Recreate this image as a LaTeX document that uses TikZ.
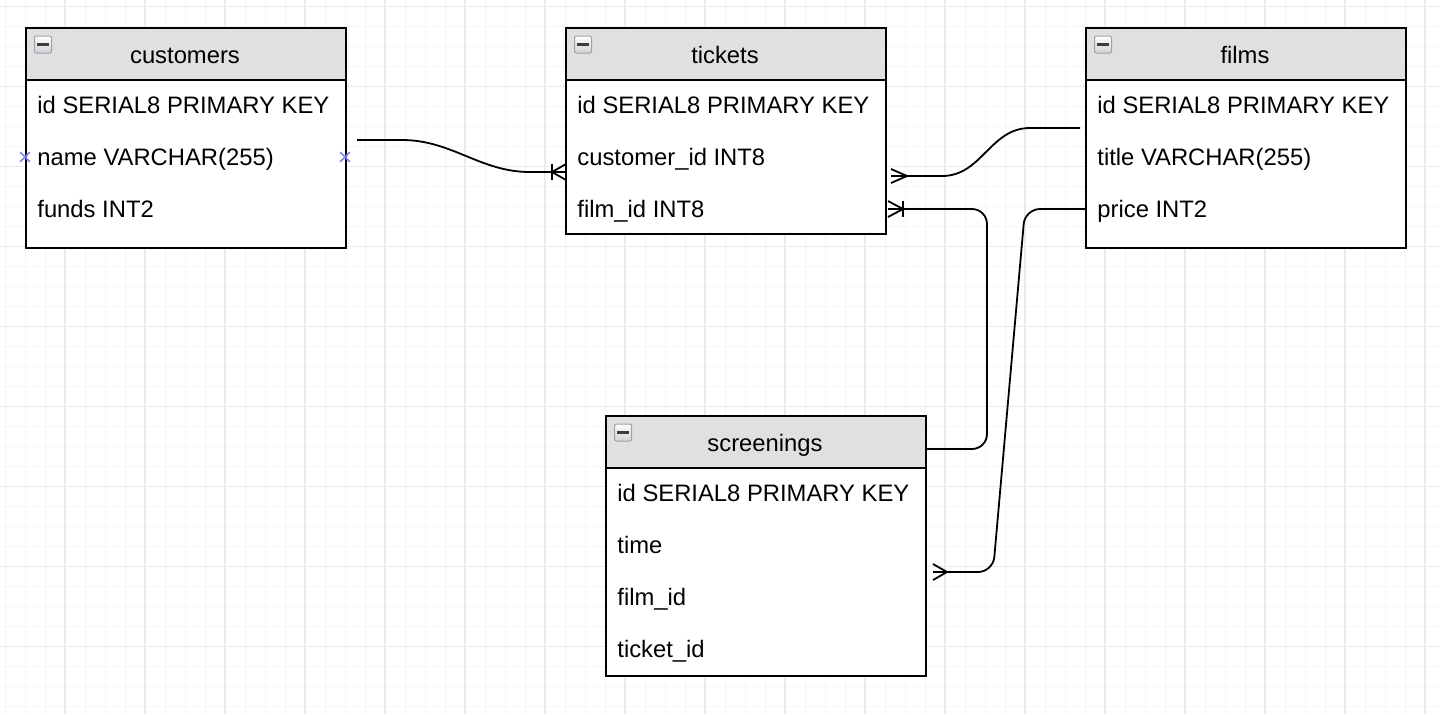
\documentclass[tikz,border=0pt]{standalone}
\usepackage{fontspec}
\setmainfont{Liberation Sans}
\usetikzlibrary{calc,shapes.misc}
\definecolor{gridminor}{HTML}{F5F5F5}
\definecolor{gridmajor}{HTML}{EBEBEB}
\definecolor{hdrgray}{HTML}{E0E0E0}
\definecolor{ptblue}{HTML}{7C84EC}
\definecolor{iconborder}{HTML}{9AA2AE}
\definecolor{iconbar}{HTML}{3C3C3C}
\begin{document}
\begin{tikzpicture}[x=0.5pt,y=-0.5pt,
  tbl/.style={draw=black, line width=1pt, fill=white, rectangle, inner sep=0pt,
    minimum width=160pt, anchor=north west},
  hdr/.style={draw=black, line width=1pt, fill=hdrgray, rectangle, inner sep=0pt,
    minimum width=160pt, minimum height=26pt, anchor=north west},
  ttl/.style={anchor=base, inner sep=0pt, font=\fontsize{11.9}{14}\selectfont},
  fld/.style={anchor=base west, inner sep=0pt, font=\fontsize{11.9}{14}\selectfont},
  icon/.style={draw=iconborder, line width=0.5pt, rounded corners=1pt, minimum size=8.5pt,
    inner sep=0pt, top color=white, bottom color=black!18,
    path picture={\draw[iconbar, line width=1.4pt]
      ([xshift=-3pt]path picture bounding box.center) -- ([xshift=3pt]path picture bounding box.center);}},
  conn/.style={draw=black, line width=0.9pt},
  ptmark/.style={cross out, draw=ptblue, line width=0.8pt, minimum size=4pt, inner sep=0pt},
]
% canvas and grid
\fill[white] (0,0) rectangle (1440,714);
\useasboundingbox (0,0) rectangle (1440,714);
\foreach \x in {5,25,...,1435} \draw[gridminor, line width=0.5pt] (\x,0) -- (\x,714);
\foreach \y in {6.7,26.7,...,710} \draw[gridminor, line width=0.5pt] (0,\y) -- (1440,\y);
\foreach \x in {65,145,...,1435} \draw[gridmajor, line width=0.6pt] (\x,0) -- (\x,714);
\foreach \y in {6.7,86.7,...,710} \draw[gridmajor, line width=0.6pt] (0,\y) -- (1440,\y);

% customers
\node[tbl, minimum height=110pt] (customers) at (25,27) {};
\node[hdr] (customers-h) at (25,27) {};
\node[icon] (customers-i) at (43,44.5) {};
\node[ttl] (customers-t) at (185,63.5) {customers};
\node[fld] (customers-f1) at (37,113) {id SERIAL8 PRIMARY KEY};
\node[fld] (customers-f2) at (37,165) {name VARCHAR(255)};
\node[fld] (customers-f3) at (37,217) {funds INT2};
\node[ptmark] (customers-p1) at (25,157) {};
\node[ptmark] (customers-p2) at (345,157) {};

% tickets
\node[tbl, minimum height=103pt] (tickets) at (565,27) {};
\node[hdr] (tickets-h) at (565,27) {};
\node[icon] (tickets-i) at (583,44.5) {};
\node[ttl] (tickets-t) at (725,63.5) {tickets};
\node[fld] (tickets-f1) at (577,113) {id SERIAL8 PRIMARY KEY};
\node[fld] (tickets-f2) at (577,165) {customer\_id INT8};
\node[fld] (tickets-f3) at (577,217) {film\_id INT8};

% films
\node[tbl, minimum height=110pt] (films) at (1085,27) {};
\node[hdr] (films-h) at (1085,27) {};
\node[icon] (films-i) at (1103,44.5) {};
\node[ttl] (films-t) at (1245,63.5) {films};
\node[fld] (films-f1) at (1097,113) {id SERIAL8 PRIMARY KEY};
\node[fld] (films-f2) at (1097,165) {title VARCHAR(255)};
\node[fld] (films-f3) at (1097,217) {price INT2};

% screenings
\node[tbl, minimum height=130pt] (screenings) at (605,415) {};
\node[hdr] (screenings-h) at (605,415) {};
\node[icon] (screenings-i) at (623,432.5) {};
\node[ttl] (screenings-t) at (765,451.5) {screenings};
\node[fld] (screenings-f1) at (617,501) {id SERIAL8 PRIMARY KEY};
\node[fld] (screenings-f2) at (617,553) {time};
\node[fld] (screenings-f3) at (617,605) {film\_id};
\node[fld] (screenings-f4) at (617,657) {ticket\_id};

% connector end points
\coordinate (c1s) at ($(customers.east)+(10,2)$);
\coordinate (t1) at ($(tickets.west)+(0,41)$);
\coordinate (f1) at ($(films.west)+(-5,-10)$);
\coordinate (t2) at ($(tickets.east)+(4,45)$);
\coordinate (t3) at ($(tickets.east)+(1,78)$);
\coordinate (s1) at ($(screenings.north east)+(0,34)$);
\coordinate (f2) at ($(films.west)+(0,71)$);
\coordinate (s2) at ($(screenings.east)+(6,26)$);

% customers -> tickets
\draw[conn] (c1s) -- ++(45,0) .. controls +(50,0) and ($(t1)+(-85,0)$) .. ($(t1)+(-35,0)$) -- (t1);
\draw[conn] ($(t1)+(-13,-8)$) -- ($(t1)+(-13,8)$);
\draw[conn] ($(t1)+(1,-8)$) -- ($(t1)+(-13,0)$) -- ($(t1)+(1,8)$);

% films -> tickets
\draw[conn] (f1) -- ++(-50,0) .. controls +(-40,0) and ($(t2)+(91,0)$) .. ($(t2)+(51,0)$) -- (t2);
\draw[conn] ($(t2)+(0,-7)$) -- ($(t2)+(16,0)$) -- ($(t2)+(0,7)$);

% tickets -> screenings
\draw[conn, rounded corners=7.5pt] (t3) -- ($(t3)+(99,0)$) |- (s1);
\draw[conn] ($(t3)+(15,-8)$) -- ($(t3)+(15,8)$);
\draw[conn] ($(t3)+(0,-8)$) -- ($(t3)+(15,0)$) -- ($(t3)+(0,8)$);

% films -> screenings
\draw[conn, rounded corners=7.5pt] (f2) -- ($(f2)+(-60,0)$) -- ($(s2)+(60,0)$) -- (s2);
\draw[conn] ($(s2)+(0,-8)$) -- ($(s2)+(14,0)$) -- ($(s2)+(0,8)$);
\end{tikzpicture}
\end{document}
